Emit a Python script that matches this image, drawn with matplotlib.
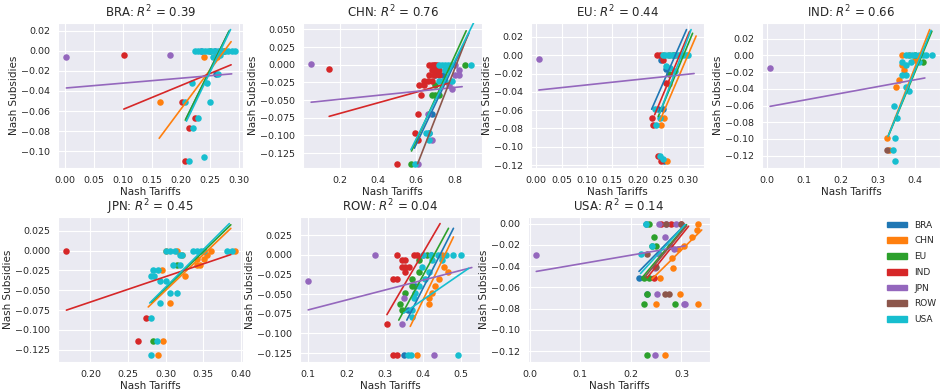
import matplotlib
matplotlib.use("Agg")
import matplotlib.pyplot as plt
import matplotlib.patches as mpatches
from matplotlib.ticker import MultipleLocator
import seaborn as sns

sns.set_style("darkgrid")
plt.rcParams['font.family'] = ['DejaVu Sans']

countries = ["BRA", "CHN", "EU", "IND", "JPN", "ROW", "USA"]
colors = {"BRA": "#1f77b4", "CHN": "#ff7f0e", "EU": "#2ca02c", "IND": "#d62728",
          "JPN": "#9467bd", "ROW": "#8c564b", "USA": "#17becf"}
r2_values = [0.39, 0.76, 0.44, 0.66, 0.45, 0.04, 0.14]

# ---- scatter points per panel: series -> (tariffs, subsidies) ----
bra_points = {
    "JPN": ([0.003, 0.181], [-0.006, -0.004]),
    "IND": ([0.102, 0.202, 0.225, 0.215, 0.208], [-0.004, -0.051, -0.067, -0.077, -0.110]),
    "CHN": ([0.164, 0.240, 0.263], [-0.051, -0.006, -0.006]),
    "BRA": ([0.235, 0.260, 0.270, 0.261], [0.0, 0.0, 0.0, -0.023]),
    "EU": ([0.250, 0.275], [0.0, 0.0]),
    "USA": ([0.225, 0.230, 0.236, 0.242, 0.248, 0.253, 0.258, 0.264, 0.270, 0.276, 0.282, 0.288, 0.293,
             0.265, 0.220, 0.246, 0.208, 0.250, 0.230, 0.222, 0.215, 0.240, 0.255, 0.268],
            [0.0, 0.0, 0.0, 0.0, 0.0, 0.0, 0.0, 0.0, 0.0, 0.0, 0.0, 0.0, 0.0,
             -0.023, -0.032, -0.032, -0.051, -0.051, -0.067, -0.077, -0.110, -0.106, -0.006, -0.004]),
}
chn_points = {
    "JPN": ([0.052, 0.800, 0.820, 0.800, 0.820, 0.770, 0.785, 0.660, 0.683, 0.610],
            [0.001, 0.0, -0.008, -0.015, -0.015, -0.029, -0.034, -0.069, -0.106, -0.140]),
    "IND": ([0.146, 0.667, 0.680, 0.690, 0.700, 0.710, 0.683, 0.700, 0.720, 0.667, 0.690, 0.716,
             0.641, 0.660, 0.680, 0.616, 0.640, 0.624, 0.611, 0.595, 0.607, 0.497],
            [-0.006, 0.0, 0.0, 0.0, 0.0, 0.0, -0.008, -0.008, -0.008, -0.015, -0.015, -0.015,
             -0.023, -0.023, -0.023, -0.029, -0.029, -0.043, -0.069, -0.097, -0.106, -0.140]),
    "BRA": ([0.700, 0.740, 0.667, 0.683], [-0.015, -0.015, -0.097, -0.069]),
    "EU": ([0.853, 0.700, 0.683, 0.700, 0.720, 0.573, 0.760],
           [0.0, -0.029, -0.043, -0.043, -0.043, -0.140, -0.006]),
    "USA": ([0.720, 0.735, 0.750, 0.765, 0.780, 0.883, 0.750, 0.718, 0.735, 0.750, 0.785,
             0.650, 0.667, 0.667, 0.595],
            [0.0, 0.0, 0.0, 0.0, 0.0, 0.0, -0.008, -0.023, -0.023, -0.023, -0.023,
             -0.097, -0.097, -0.106, -0.140]),
}
eu_points = {
    "JPN": ([0.005], [-0.004]),
    "IND": ([0.238, 0.244, 0.250, 0.256, 0.228, 0.231, 0.241, 0.247],
            [0.0, 0.0, -0.005, -0.030, -0.069, -0.076, -0.110, -0.116]),
    "CHN": ([0.250, 0.262, 0.275, 0.262, 0.253, 0.247, 0.259],
            [0.0, 0.0, 0.0, -0.031, -0.069, -0.076, -0.116]),
    "BRA": ([0.247, 0.256, 0.240, 0.250, 0.253], [-0.005, -0.015, -0.059, -0.059, -0.116]),
    "EU": ([0.270, 0.262], [0.0, -0.020]),
    "USA": ([0.250, 0.255, 0.260, 0.265, 0.270, 0.275, 0.280, 0.285, 0.290, 0.295, 0.300,
             0.256, 0.265, 0.274, 0.235, 0.245, 0.237, 0.245, 0.250],
            [0.0, 0.0, 0.0, 0.0, 0.0, 0.0, 0.0, 0.0, 0.0, 0.0, 0.0,
             -0.012, -0.014, -0.017, -0.059, -0.069, -0.076, -0.110, -0.113]),
}
ind_points = {
    "JPN": ([0.009], [-0.015]),
    "CHN": ([0.365, 0.383, 0.400, 0.357, 0.365, 0.348, 0.323, 0.330, 0.370],
            [0.0, 0.0, -0.005, -0.030, -0.012, -0.038, -0.099, -0.113, -0.018]),
    "ROW": ([0.323], [-0.113]),
    "EU": ([0.400, 0.420], [0.0, -0.008]),
    "USA": ([0.374, 0.383, 0.392, 0.400, 0.410, 0.420, 0.430, 0.445, 0.365, 0.374, 0.390,
             0.410, 0.365, 0.374, 0.374, 0.383, 0.343, 0.352, 0.345, 0.341, 0.346],
            [0.0, 0.0, 0.0, 0.0, 0.0, 0.0, 0.0, 0.0, -0.008, -0.012, -0.008,
             -0.008, -0.024, -0.024, -0.038, -0.043, -0.061, -0.075, -0.099, -0.113, -0.127]),
}
jpn_points = {
    "IND": ([0.168, 0.274, 0.263], [0.0, -0.085, -0.114]),
    "CHN": ([0.300, 0.315, 0.322, 0.342, 0.355, 0.360, 0.346, 0.351, 0.342, 0.326,
             0.295, 0.306, 0.297, 0.290, 0.392],
            [0.0, 0.0, -0.005, -0.011, -0.005, 0.0, -0.018, -0.011, -0.018, -0.032,
             -0.025, -0.066, -0.114, -0.132, 0.0]),
    "EU": ([0.315, 0.283], [-0.018, -0.114]),
    "USA": ([0.300, 0.306, 0.312, 0.337, 0.342, 0.347, 0.351, 0.382, 0.388, 0.310,
             0.319, 0.283, 0.290, 0.281, 0.285, 0.292, 0.300, 0.306, 0.315, 0.292,
             0.281, 0.288, 0.281, 0.319, 0.322],
            [0.0, 0.0, 0.0, 0.0, 0.0, 0.0, 0.0, 0.0, 0.0, -0.018,
             -0.018, -0.025, -0.025, -0.032, -0.032, -0.038, -0.038, -0.054, -0.054, -0.066,
             -0.085, -0.114, -0.132, -0.005, -0.005]),
}
row_points = {
    "JPN": ([0.100, 0.276, 0.350, 0.345, 0.400, 0.430],
            [-0.033, 0.0, -0.055, -0.088, 0.0, -0.128]),
    "IND": ([0.332, 0.376, 0.385, 0.345, 0.354, 0.363, 0.345, 0.354, 0.354, 0.323,
             0.332, 0.306, 0.323, 0.332],
            [0.0, 0.0, 0.0, -0.007, -0.007, -0.015, -0.015, -0.015, -0.022, -0.031,
             -0.031, -0.088, -0.128, -0.128]),
    "EU": ([0.389, 0.389, 0.371, 0.371, 0.354, 0.341, 0.345, 0.410],
           [-0.007, -0.022, -0.031, -0.040, -0.048, -0.063, -0.070, 0.0]),
    "BRA": ([0.380, 0.350, 0.362, 0.420], [-0.040, -0.128, -0.070, 0.0]),
    "CHN": ([0.454, 0.467, 0.441, 0.432, 0.423, 0.415, 0.415, 0.384, 0.450],
            [-0.015, -0.022, -0.031, -0.040, -0.048, -0.055, -0.063, -0.128, 0.0]),
    "USA": ([0.400, 0.420, 0.440, 0.460, 0.480, 0.500, 0.423, 0.450, 0.397, 0.415,
             0.406, 0.389, 0.380, 0.376, 0.371, 0.371, 0.360, 0.370, 0.493],
            [0.0, 0.0, 0.0, 0.0, 0.0, 0.0, -0.007, -0.007, -0.015, -0.022,
             -0.031, -0.040, -0.048, -0.055, -0.070, -0.079, -0.128, -0.128, -0.128]),
}
usa_points = {
    "JPN": ([0.013, 0.255, 0.270, 0.290, 0.268, 0.278, 0.285, 0.255, 0.248, 0.252,
             0.304, 0.307, 0.248],
            [-0.030, 0.0, 0.0, 0.0, -0.013, -0.021, -0.024, -0.029, -0.042, -0.066,
             -0.076, -0.076, -0.124]),
    "IND": ([0.260, 0.280, 0.300, 0.245], [0.0, 0.0, 0.0, -0.051]),
    "ROW": ([0.270, 0.300, 0.232, 0.268, 0.275, 0.250], [0.0, 0.0, -0.029, -0.066, -0.066, -0.041]),
    "BRA": ([0.229, 0.216, 0.232], [0.0, -0.051, -0.066]),
    "EU": ([0.235, 0.245, 0.242, 0.250, 0.225, 0.235, 0.232, 0.225, 0.288, 0.232],
           [0.0, -0.013, -0.021, -0.021, -0.051, -0.051, -0.066, -0.076, -0.076, -0.124]),
    "USA": ([0.229, 0.219, 0.242], [0.0, -0.029, -0.021]),
    "CHN": ([0.333, 0.330, 0.320, 0.304, 0.294, 0.284, 0.258, 0.297, 0.333, 0.268, 0.250, 0.281],
            [0.0, -0.006, -0.013, -0.021, -0.024, -0.042, -0.051, -0.066, -0.076, -0.124, -0.076, -0.032]),
}

# ---- fitted regression lines per panel: series -> ((x0, x1), (y0, y1)) ----
bra_fits = {
    "JPN": ((0.003, 0.288), (-0.037, -0.023)),
    "IND": ((0.102, 0.287), (-0.058, -0.014)),
    "CHN": ((0.163, 0.287), (-0.087, 0.009)),
    "BRA": ((0.209, 0.283), (-0.068, 0.019)),
    "EU": ((0.208, 0.284), (-0.069, 0.020)),
    "USA": ((0.210, 0.286), (-0.070, 0.021)),
}
chn_fits = {
    "JPN": ((0.052, 0.839), (-0.053, -0.031)),
    "IND": ((0.146, 0.770), (-0.073, -0.026)),
    "ROW": ((0.607, 0.870), (-0.140, 0.043)),
    "BRA": ((0.590, 0.875), (-0.118, 0.045)),
    "EU": ((0.575, 0.860), (-0.122, 0.048)),
    "USA": ((0.572, 0.900), (-0.120, 0.060)),
}
eu_fits = {
    "JPN": ((0.005, 0.312), (-0.038, -0.020)),
    "BRA": ((0.228, 0.297), (-0.059, 0.028)),
    "IND": ((0.234, 0.303), (-0.065, 0.026)),
    "EU": ((0.241, 0.309), (-0.067, 0.024)),
    "USA": ((0.244, 0.306), (-0.063, 0.028)),
    "CHN": ((0.244, 0.316), (-0.072, 0.021)),
}
ind_fits = {
    "JPN": ((0.009, 0.426), (-0.061, -0.027)),
    "CHN": ((0.323, 0.439), (-0.101, 0.031)),
    "EU": ((0.329, 0.445), (-0.095, 0.029)),
    "USA": ((0.327, 0.443), (-0.097, 0.030)),
}
jpn_fits = {
    "IND": ((0.168, 0.387), (-0.075, -0.005)),
    "CHN": ((0.277, 0.387), (-0.071, 0.028)),
    "EU": ((0.281, 0.387), (-0.065, 0.0325)),
    "USA": ((0.279, 0.385), (-0.066, 0.034)),
}
row_fits = {
    "JPN": ((0.100, 0.528), (-0.070, -0.016)),
    "IND": ((0.306, 0.445), (-0.076, 0.040)),
    "EU": ((0.337, 0.467), (-0.083, 0.034)),
    "BRA": ((0.358, 0.480), (-0.083, 0.034)),
    "CHN": ((0.367, 0.480), (-0.091, 0.023)),
    "USA": ((0.350, 0.520), (-0.074, -0.017)),
}
usa_fits = {
    "JPN": ((0.013, 0.307), (-0.045, -0.021)),
    "BRA": ((0.216, 0.307), (-0.045, -0.001)),
    "USA": ((0.219, 0.307), (-0.047, -0.001)),
    "EU": ((0.222, 0.310), (-0.051, -0.001)),
    "ROW": ((0.228, 0.310), (-0.050, -0.002)),
    "IND": ((0.232, 0.314), (-0.051, -0.0025)),
    "CHN": ((0.242, 0.340), (-0.052, -0.006)),
}

panel_points = [bra_points, chn_points, eu_points, ind_points, jpn_points, row_points, usa_points]
panel_fits = [bra_fits, chn_fits, eu_fits, ind_fits, jpn_fits, row_fits, usa_fits]

# tick spacing per panel
x_tick_steps = [0.05, 0.2, 0.05, 0.1, 0.05, 0.1, 0.1]
y_tick_steps = [0.02, 0.025, 0.02, 0.02, 0.025, 0.025, 0.02]
y_limits = [None, (-0.146, 0.059), None, None, None, None, None]

# ---- layout (pixel boxes: left, right, top, bottom) ----
W, H = 943, 392
boxes = [(58, 243, 23, 168), (303, 482, 23, 168), (531, 704, 23, 168), (762, 940, 23, 168),
         (58, 243, 217, 362), (300, 480, 217, 362), (528, 710, 217, 362), (762, 940, 217, 362)]

fig = plt.figure(figsize=(W / 100, H / 100), dpi=100)
axes = []
for (l, r, t, b) in boxes:
    axes.append(fig.add_axes([l / W, 1 - b / H, (r - l) / W, (b - t) / H]))

for i, c in enumerate(countries):
    ax = axes[i]
    pts = panel_points[i]
    fits = panel_fits[i]
    for s in countries:
        if s in pts:
            xs, ys = pts[s]
            ax.scatter(xs, ys, s=22, color=colors[s], linewidths=0, zorder=2)
    for s in countries:
        if s in fits:
            (x0, x1), (y0, y1) = fits[s]
            ax.plot([x0, x1], [y0, y1], color=colors[s], lw=1.2, zorder=3)
    if y_limits[i] is not None:
        ax.set_ylim(*y_limits[i])
    ax.xaxis.set_major_locator(MultipleLocator(x_tick_steps[i]))
    ax.yaxis.set_major_locator(MultipleLocator(y_tick_steps[i]))
    ax.set_title(f"{c}: $R^2$ = {r2_values[i]:.2f}", fontsize=8.5, pad=4)
    ax.set_xlabel("Nash Tariffs", fontsize=7.5, labelpad=2)
    ax.set_ylabel("Nash Subsidies", fontsize=7.5, labelpad=2)
    ax.tick_params(labelsize=6.8, pad=2)

axes[7].axis("off")
handles = [mpatches.Patch(color=colors[c], label=c) for c in countries]
axes[7].legend(handles=handles, loc="upper right", fontsize=6.5, frameon=False,
               handlelength=2.2, handleheight=0.6, labelspacing=0.75,
               borderaxespad=0.0, handletextpad=0.8)

fig.savefig("out.png", dpi=100)
